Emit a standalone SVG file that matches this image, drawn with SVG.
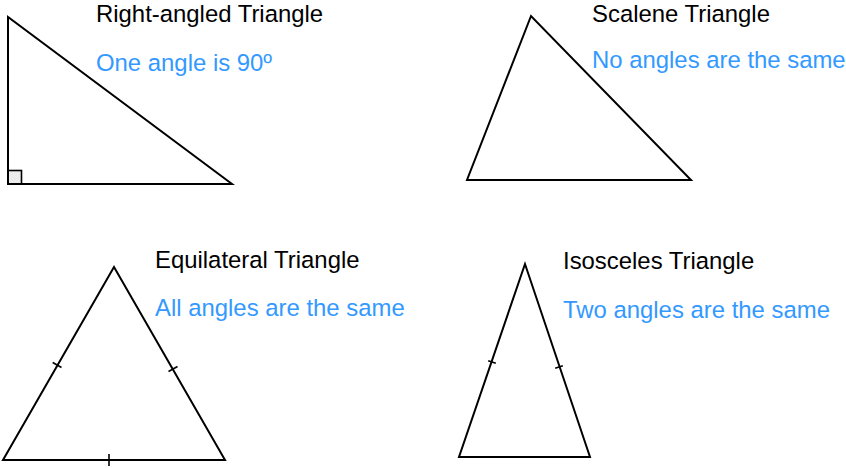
<svg xmlns="http://www.w3.org/2000/svg" width="846" height="468" viewBox="0 0 846 468">
<style>
.shape{fill:none;stroke:#000;stroke-width:2;stroke-linejoin:miter}
.tick{stroke:#000;stroke-width:1.6;fill:none}
.title{font-family:"Liberation Sans",Arial,sans-serif;font-size:23.9px;fill:#000}
.desc{font-family:"Liberation Sans",Arial,sans-serif;font-size:23.9px;fill:#3399FF}
</style>
<rect width="846" height="468" fill="#fff"/>
<g id="right-angled">
<rect x="8" y="170.5" width="13.5" height="13.5" fill="#ececec" stroke="#000" stroke-width="1.6"/>
<polygon class="shape" points="8,17 8,184 232,184"/>
<text class="title" x="96" y="22">Right-angled Triangle</text>
<text class="desc" x="96" y="71">One angle is 90º</text>
</g>
<g id="scalene">
<polygon class="shape" points="531,16 467,180 691,180"/>
<text class="title" x="592" y="21.5">Scalene Triangle</text>
<text class="desc" x="592" y="68">No angles are the same</text>
</g>
<g id="equilateral">
<polygon class="shape" points="114,267 3,460 225,460"/>
<line class="tick" x1="52.7" y1="362.5" x2="61.5" y2="367.5"/>
<line class="tick" x1="168.5" y1="371.5" x2="177.5" y2="366.5"/>
<line class="tick" x1="109" y1="454" x2="109" y2="466"/>
<text class="title" x="155" y="267.5">Equilateral Triangle</text>
<text class="desc" x="155" y="316">All angles are the same</text>
</g>
<g id="isosceles">
<polygon class="shape" points="525,264 459,457 590,457"/>
<line class="tick" x1="488.2" y1="360.7" x2="495.8" y2="363.3"/>
<line class="tick" x1="555.2" y1="368.3" x2="562.8" y2="365.7"/>
<text class="title" x="563" y="268.5">Isosceles Triangle</text>
<text class="desc" x="563" y="318">Two angles are the same</text>
</g>
<g id="connectors"></g>
</svg>
